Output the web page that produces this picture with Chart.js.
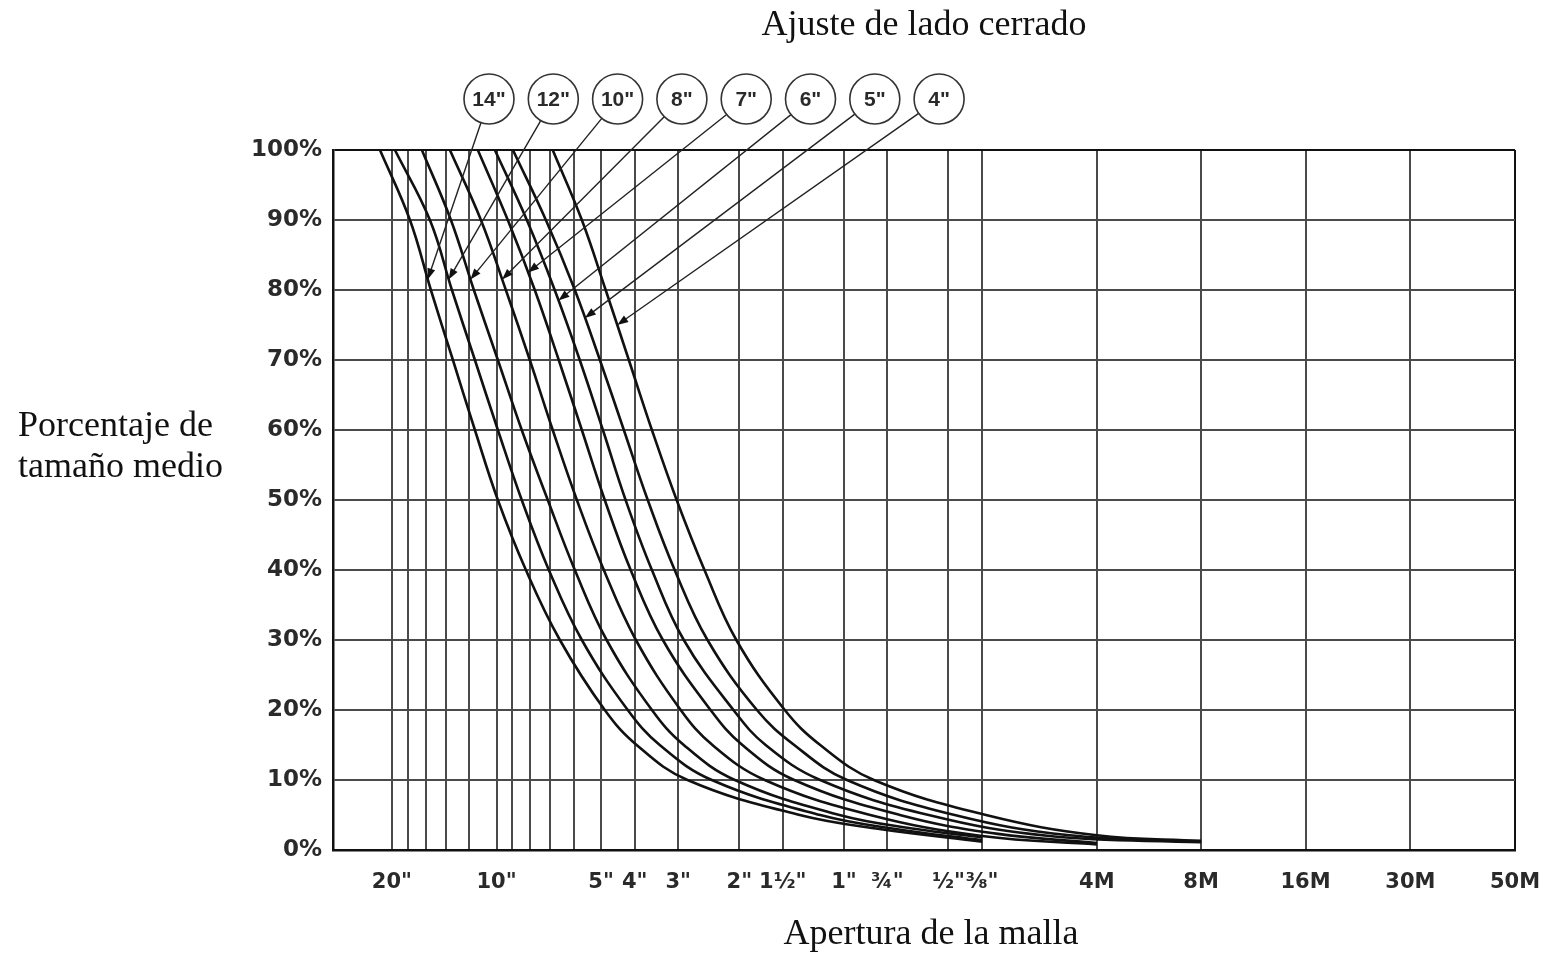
<!DOCTYPE html>
<html>
<head>
<meta charset="utf-8">
<script src="https://cdn.jsdelivr.net/npm/chart.js@4"></script>
<style>
  body { margin: 0; background: #fff; }
  #wrap { position: relative; width: 1549px; height: 953px; }
  canvas { position: absolute; left: 0; top: 0; }
  .t { position: absolute; font-family: "Liberation Serif", "Times New Roman", serif; font-size: 36px;
       color: #111; white-space: nowrap; line-height: 1; }
</style>
</head>
<body>
<div id="wrap">
  <canvas id="chart" width="1549" height="953"></canvas>
  <div class="t" style="left:924px;top:5px;transform:translateX(-50%)">Ajuste de lado cerrado</div>
  <div class="t" style="left:931px;top:914px;transform:translateX(-50%)">Apertura de la malla</div>
  <div class="t" style="left:18px;top:404px;line-height:41px">Porcentaje de<br>tamaño medio</div>
</div>
<script>
// closed side settings, one curve each
const settings = ['14"', '12"', '10"', '8"', '7"', '6"', '5"', '4"'];

// percent passing, read at these levels (x = mesh opening in inches)
const pctLevels = [100, 90, 80, 70, 60, 50, 40, 30, 20, 15, 10, 5];

const size14 = [21.65, 17.75, 15.45, 13.35, 11.54, 9.91, 8.23, 6.57, 4.88, 3.95, 2.82, 1.34];
const size12 = [19.61, 15.55, 13.44, 11.54, 9.91, 8.46, 7.07, 5.68, 4.19, 3.39, 2.40, 1.17];
const size10 = [16.40, 13.53, 11.62, 9.91, 8.46, 7.12, 5.95, 4.82, 3.57, 2.89, 2.06, 1.03];
const size8 = [13.62, 11.09, 9.40, 8.02, 6.89, 5.87, 4.91, 3.97, 2.95, 2.39, 1.69, 0.84];
const size7 = [11.32, 9.28, 7.76, 6.62, 5.68, 4.88, 4.11, 3.32, 2.42, 1.96, 1.39, 0.69];
const size6 = [10.11, 8.18, 6.80, 5.76, 4.94, 4.25, 3.57, 2.89, 2.08, 1.68, 1.17, 0.57];
const size5 = [8.97, 7.21, 5.95, 5.04, 4.30, 3.67, 3.07, 2.47, 1.78, 1.39, 0.98, 0.48];
const size4 = [6.89, 5.68, 4.85, 4.16, 3.57, 3.03, 2.52, 2.04, 1.48, 1.17, 0.82, 0.39];

// fine tail of each curve (size in inches, percent)
const tailSize14 = [0.79, 0.40], tailPct14 = [3, 1.2];
const tailSize12 = [0.71, 0.40], tailPct12 = [3, 1.4];
const tailSize10 = [0.62, 0.40], tailPct10 = [3, 1.8];
const tailSize8 = [0.40, 0.187], tailPct8 = [2.0, 0.8];
const tailSize7 = [0.36, 0.187], tailPct7 = [2.3, 1.0];
const tailSize6 = [0.256, 0.0937], tailPct6 = [2.0, 1.1];
const tailSize5 = [0.224, 0.0937], tailPct5 = [2.1, 1.2];
const tailSize4 = [0.187, 0.0937], tailPct4 = [2.1, 1.3];

// where each leader arrow touches its curve (percent)
const arrowPcts = [81.5, 81.5, 81.5, 81.5, 82.5, 78.5, 76, 75];

// sieve grid: openings in inches (mesh sizes converted), and labels
const sizeTicks = [29.56, 20, 18, 16, 14, 12, 10, 9, 8, 7, 6, 5, 4, 3, 2, 1.5, 1, 0.75, 0.5, 0.4,
                   0.187, 0.0937, 0.0469, 0.0234, 0.0117];
const sizeLabels = ['', '20"', '', '', '', '', '10"', '', '', '', '', '5"', '4"', '3"', '2"', '1½"', '1"',
                    '¾"', '½"', '⅜"', '4M', '8M', '16M', '30M', '50M'];

const curveSizes = [size14, size12, size10, size8, size7, size6, size5, size4];
const tailSizes = [tailSize14, tailSize12, tailSize10, tailSize8, tailSize7, tailSize6, tailSize5, tailSize4];
const tailPcts = [tailPct14, tailPct12, tailPct10, tailPct8, tailPct7, tailPct6, tailPct5, tailPct4];

function curvePoints(sizes, tSizes, tPcts) {
  const pts = sizes.map((s, i) => ({ x: s, y: pctLevels[i] }));
  tSizes.forEach((s, i) => pts.push({ x: s, y: tPcts[i] }));
  return pts;
}

function pointOnCurve(data, pct, xs, ys) {
  for (let i = 0; i < data.length - 1; i++) {
    const a = data[i], b = data[i + 1];
    if (a.y >= pct && b.y <= pct) {
      const t = (a.y - pct) / (a.y - b.y);
      const xa = xs.getPixelForValue(a.x), xb = xs.getPixelForValue(b.x);
      return { x: xa + t * (xb - xa), y: ys.getPixelForValue(pct) };
    }
  }
  return null;
}

const callouts = {
  id: 'callouts',
  afterDatasetsDraw(chart) {
    const { ctx, scales: { x, y } } = chart;
    ctx.save();
    chart.data.datasets.forEach((ds, i) => {
      const tip = pointOnCurve(ds.data, arrowPcts[i], x, y);
      if (!tip) return;
      const cx = 489 + 64.3 * i, cy = 99, r = 25;
      const dx = tip.x - cx, dy = tip.y - cy, len = Math.hypot(dx, dy);
      const ux = dx / len, uy = dy / len;

      ctx.strokeStyle = '#222';
      ctx.lineWidth = 1.4;
      ctx.beginPath();
      ctx.moveTo(cx + ux * r, cy + uy * r);
      ctx.lineTo(tip.x - ux * 6, tip.y - uy * 6);
      ctx.stroke();

      // arrow head
      ctx.fillStyle = '#111';
      ctx.beginPath();
      ctx.moveTo(tip.x, tip.y);
      ctx.lineTo(tip.x - ux * 11 - uy * 4, tip.y - uy * 11 + ux * 4);
      ctx.lineTo(tip.x - ux * 11 + uy * 4, tip.y - uy * 11 - ux * 4);
      ctx.closePath();
      ctx.fill();

      ctx.fillStyle = '#fff';
      ctx.beginPath();
      ctx.arc(cx, cy, r, 0, Math.PI * 2);
      ctx.fill();
      ctx.lineWidth = 1.6;
      ctx.strokeStyle = '#333';
      ctx.stroke();

      ctx.fillStyle = '#2a2a2a';
      ctx.font = 'bold 21px "Liberation Sans", Arial, sans-serif';
      ctx.textAlign = 'center';
      ctx.textBaseline = 'middle';
      ctx.fillText(ds.label, cx, cy + 1);
    });
    ctx.restore();
  }
};

const xFont = { family: '"DejaVu Sans", sans-serif', size: 21, weight: 'bold' };
const yFont = { family: '"DejaVu Sans", sans-serif', size: 23, weight: 'bold' };

new Chart(document.getElementById('chart'), {
  type: 'scatter',
  data: {
    datasets: settings.map((label, i) => ({
      label,
      data: curvePoints(curveSizes[i], tailSizes[i], tailPcts[i]),
      showLine: true,
      borderColor: '#111',
      borderWidth: 2.6,
      pointRadius: 0,
      tension: 0.4,
      fill: false
    }))
  },
  options: {
    responsive: false,
    animation: false,
    layout: { padding: { top: 150, right: 34, bottom: 0, left: 0 } },
    plugins: {
      legend: { display: false },
      tooltip: { enabled: false }
    },
    scales: {
      x: {
        type: 'logarithmic',
        reverse: true,
        min: 0.0117,
        max: 29.56,
        bounds: 'data',
        afterBuildTicks: (axis) => { axis.ticks = sizeTicks.map((v) => ({ value: v })); },
        afterFit: (axis) => {
          axis.height = 103;
          axis.paddingLeft = 0;
          axis.paddingRight = 0;
        },
        ticks: {
          autoSkip: false,
          maxRotation: 0,
          minRotation: 0,
          padding: 20,
          color: '#2a2a2a',
          font: xFont,
          callback: (v, i) => sizeLabels[i]
        },
        grid: {
          color: (c) => (c.tick && c.tick.value === 0.0117) ? '#111' : '#4a4a4a',
          lineWidth: 2,
          drawTicks: false
        },
        border: { color: '#111', width: 2.5 }
      },
      y: {
        min: 0,
        max: 100,
        afterFit: (axis) => { axis.width = 333; },
        ticks: {
          stepSize: 10,
          padding: 11,
          color: '#2a2a2a',
          font: yFont,
          callback: (v) => v + '%'
        },
        grid: {
          color: (c) => (c.tick && c.tick.value === 100) ? '#111' : '#4a4a4a',
          lineWidth: 2,
          drawTicks: false
        },
        border: { color: '#111', width: 2.5 }
      }
    }
  },
  plugins: [callouts]
});
</script>
</body>
</html>
